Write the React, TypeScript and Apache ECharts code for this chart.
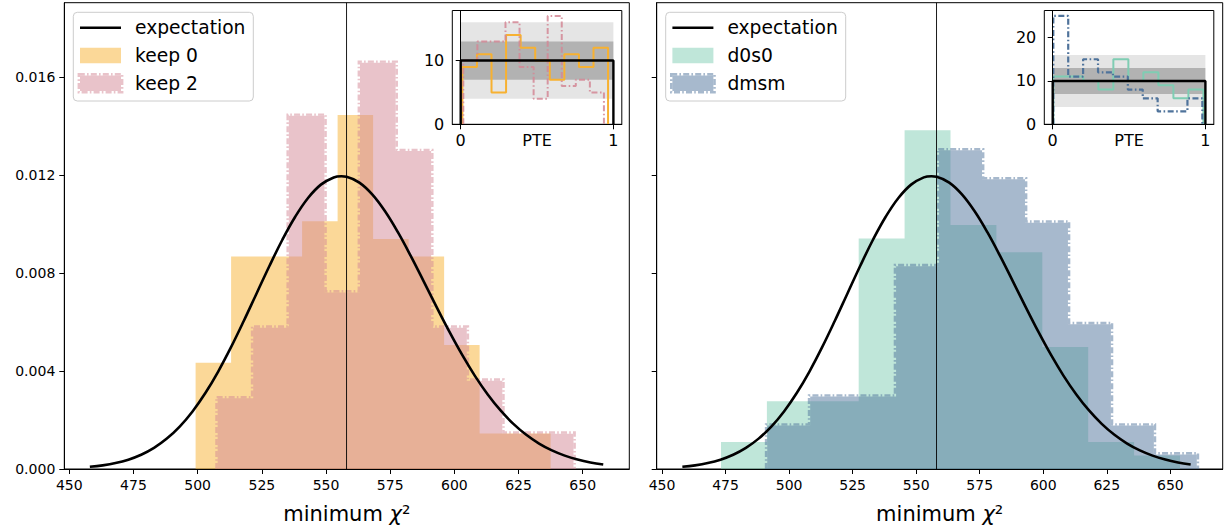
import { useEffect, useRef } from "react";
import * as echarts from "echarts";

const FONT = '"DejaVu Sans", "Liberation Sans", sans-serif';

// ---------- tick labels ----------
const xTickValues = [450, 475, 500, 525, 550, 575, 600, 625, 650];
const yTickValues = [0, 0.004, 0.008, 0.012, 0.016];
const pteTickValues = [0, 1];
const leftInsetYTicks = [0, 10];
const rightInsetYTicks = [0, 10, 20];

// ---------- expectation curve ----------
const expectX = [458, 463, 468, 473, 478, 483, 488, 493, 498, 503, 508, 513, 518, 523, 528, 533, 538, 543, 548, 553, 556, 558, 563, 568, 573, 578, 583, 588, 593, 598, 603, 608, 613, 618, 623, 628, 633, 638, 643, 648, 653, 658];
const expectY = [0.0000887, 0.000149, 0.000242, 0.000382, 0.000583, 0.000863, 0.001241, 0.001732, 0.002351, 0.003102, 0.003982, 0.004976, 0.006056, 0.007182, 0.008304, 0.009365, 0.010305, 0.011072, 0.011618, 0.011912, 0.01196, 0.011939, 0.011702, 0.01122, 0.01053, 0.009675, 0.008706, 0.007676, 0.006633, 0.005619, 0.004669, 0.003806, 0.003045, 0.002391, 0.001844, 0.001397, 0.00104, 0.00076, 0.000547, 0.000387, 0.000269, 0.000184];
const dofLine = 558;

// ---------- minimum chi^2 histograms (10 bins, counts) ----------
const keep0Range = [499.2, 637.5];
const keep0Counts = [6, 12, 12, 14, 20, 13, 12, 7, 2, 2];
const keep2Range = [507.8, 646.4];
const keep2Counts = [4, 8, 20, 10, 23, 18, 8, 5, 2, 2];
const d0s0Range = [473.2, 653.8];
const d0s0Counts = [2, 5, 5, 17, 25, 18, 16, 9, 2, 1];
const dmsmRange = [491.4, 660.4];
const dmsmCounts = [3, 5, 5, 14, 22, 20, 17, 10, 3, 1];

// ---------- PTE histograms (10 bins, counts) ----------
const keep0PteRange = [0.011, 0.965];
const keep0Pte = [9, 11, 5, 14, 12, 10, 7, 11, 9, 12];
const keep2PteRange = [0.017, 0.938];
const keep2Pte = [10, 13, 13, 16, 9, 4, 17, 6, 7, 5];
const d0s0PteRange = [0.004, 0.987];
const d0s0Pte = [11, 11, 10, 8, 15, 10, 12, 9, 6, 8];
const dmsmPteRange = [0.004, 0.98];
const dmsmPte = [25, 11, 15, 12, 11, 8, 6, 3, 3, 6];
const pteExpected = 10;
const pteBand1 = [7, 13];
const pteBand2 = [4, 16];

// ---------- colours ----------
const ORANGE = [247, 177, 49];
const PINK = [211, 135, 149];
const GREEN = [127, 205, 179];
const BLUE = [79, 115, 155];
const rgba = (c: number[], a: number) => `rgba(${c[0]},${c[1]},${c[2]},${a})`;

function stepPts(range: number[], counts: number[], density: boolean) {
  const n = counts.length;
  const w = (range[1] - range[0]) / n;
  const total = counts.reduce((a, b) => a + b, 0);
  const pts: number[][] = [[range[0], 0]];
  counts.forEach((c, i) => {
    const h = density ? c / (total * w) : c;
    pts.push([range[0] + i * w, h], [range[0] + (i + 1) * w, h]);
  });
  pts.push([range[1], 0]);
  return pts;
}

function offsetOutline(px: number[][], o: number) {
  const p: number[][] = [];
  for (const q of px) {
    const l = p[p.length - 1];
    if (!l || Math.abs(l[0] - q[0]) > 1e-6 || Math.abs(l[1] - q[1]) > 1e-6) p.push(q);
  }
  const s: number[][] = [p[0]];
  for (let i = 1; i < p.length - 1; i++) {
    const a = s[s.length - 1], b = p[i], c = p[i + 1];
    const col =
      (Math.abs(a[0] - b[0]) < 1e-6 && Math.abs(b[0] - c[0]) < 1e-6) ||
      (Math.abs(a[1] - b[1]) < 1e-6 && Math.abs(b[1] - c[1]) < 1e-6);
    if (!col) s.push(b);
  }
  s.push(p[p.length - 1]);
  const segs: { nx: number; ny: number }[] = [];
  for (let i = 0; i < s.length - 1; i++) {
    const dx = Math.sign(s[i + 1][0] - s[i][0]);
    const dy = Math.sign(s[i + 1][1] - s[i][1]);
    segs.push({ nx: dy, ny: -dx });
  }
  return s.map((pt, i) => {
    let x = pt[0], y = pt[1];
    [segs[i - 1], segs[i]].forEach((g) => {
      if (g) {
        x += g.nx * o;
        y += g.ny * o;
      }
    });
    return [x, y];
  });
}

const DASHDOT = [6, 2.2, 1.6, 2.2];

function histSeries(idx: number, pts: number[][], color: number[], dashed: boolean, z: number) {
  return {
    type: "custom",
    xAxisIndex: idx,
    yAxisIndex: idx,
    z,
    silent: true,
    data: pts,
    encode: { x: 0, y: 1 },
    renderItem: (params: any, api: any) => {
      if (params.dataIndex !== 0) return null;
      const px = pts.map((p) => api.coord(p));
      const children: any[] = [
        { type: "polygon", shape: { points: px }, style: { fill: rgba(color, 0.5) } },
      ];
      if (dashed) {
        children.push({
          type: "polyline",
          shape: { points: offsetOutline(px, 1.2) },
          style: { stroke: rgba(color, 0.5), lineWidth: 2.4, lineDash: DASHDOT, fill: null },
        });
      }
      return { type: "group", children };
    },
  };
}

function bandSeries(idx: number, band: number[], alpha: number, z: number) {
  return {
    type: "custom",
    xAxisIndex: idx,
    yAxisIndex: idx,
    z,
    silent: true,
    data: [[0, band[0], 1, band[1]]],
    encode: { x: [0, 2], y: [1, 3] },
    renderItem: (params: any, api: any) => {
      const a = api.coord([api.value(0), api.value(3)]);
      const b = api.coord([api.value(2), api.value(1)]);
      return {
        type: "rect",
        shape: { x: a[0], y: a[1], width: b[0] - a[0], height: b[1] - a[1] },
        style: { fill: `rgba(0,0,0,${alpha})` },
      };
    },
  };
}

function stepLine(idx: number, pts: number[][], color: string, width: number, dashed: boolean, z: number) {
  return {
    type: "line",
    xAxisIndex: idx,
    yAxisIndex: idx,
    z,
    silent: true,
    data: pts,
    symbol: "none",
    lineStyle: { color, width, type: dashed ? [6, 2.5, 1.6, 2.5] : "solid" },
  };
}

const tickLabel = { color: "#000", fontFamily: FONT, fontSize: 14 };

function mainX(gridIndex: number, min: number, max: number) {
  return {
    type: "value",
    gridIndex,
    min,
    max,
    z: 10,
    axisLine: { show: true, onZero: false, lineStyle: { color: "#000", width: 1 } },
    axisTick: { show: true, length: 5, customValues: xTickValues, lineStyle: { color: "#000", width: 1 } },
    axisLabel: { ...tickLabel, margin: 9, customValues: xTickValues },
    splitLine: { show: false },
    name: "minimum {i|χ}²",
    nameLocation: "middle",
    nameGap: 34,
    nameMoveOverlap: false,
    nameTextStyle: {
      color: "#000",
      fontFamily: FONT,
      fontSize: 21,
      verticalAlign: "top",
      rich: { i: { fontStyle: "italic", fontFamily: FONT, fontSize: 21, color: "#000" } },
    },
  };
}

function mainY(gridIndex: number, labels: boolean) {
  return {
    type: "value",
    gridIndex,
    min: 0,
    max: 0.01905,
    z: 10,
    axisLine: { show: true, lineStyle: { color: "#000", width: 1 } },
    axisTick: { show: true, length: 5, customValues: yTickValues, lineStyle: { color: "#000", width: 1 } },
    axisLabel: {
      ...tickLabel,
      show: labels,
      margin: 9,
      customValues: yTickValues,
      formatter: (v: number) => v.toFixed(3),
    },
    splitLine: { show: false },
  };
}

function insetX(gridIndex: number) {
  return {
    type: "value",
    gridIndex,
    min: -0.055,
    max: 1.055,
    z: 10,
    axisLine: { show: true, onZero: false, lineStyle: { color: "#000", width: 1 } },
    axisTick: { show: true, length: 5, customValues: pteTickValues, lineStyle: { color: "#000", width: 1 } },
    axisLabel: { ...tickLabel, fontSize: 16, margin: 8, customValues: pteTickValues },
    splitLine: { show: false },
    name: "PTE",
    nameLocation: "middle",
    nameGap: 8,
    nameMoveOverlap: false,
    nameTextStyle: { color: "#000", fontFamily: FONT, fontSize: 16, verticalAlign: "top" },
  };
}

function insetY(gridIndex: number, max: number, ticks: number[]) {
  return {
    type: "value",
    gridIndex,
    min: 0,
    max,
    z: 10,
    axisLine: { show: true, lineStyle: { color: "#000", width: 1 } },
    axisTick: { show: true, length: 5, customValues: ticks, lineStyle: { color: "#000", width: 1 } },
    axisLabel: { ...tickLabel, fontSize: 16, margin: 8, customValues: ticks },
    splitLine: { show: false },
  };
}

function legendGraphic(x0: number, y0: number, labels: string[], c1: number[], c2: number[], dashed2: boolean) {
  const rows = [15.4, 43.2, 71];
  const hx = x0 + 6.7;
  const hw = 41;
  const children: any[] = [
    {
      type: "rect",
      shape: { x: x0, y: y0, width: 180, height: 88.7, r: 4 },
      style: { fill: "rgba(255,255,255,0.8)", stroke: "#cccccc", lineWidth: 1 },
    },
    { type: "line", shape: { x1: hx, y1: y0 + rows[0], x2: hx + hw, y2: y0 + rows[0] }, style: { stroke: "#000", lineWidth: 2.6 } },
    { type: "rect", shape: { x: hx, y: y0 + rows[1] - 7.8, width: hw, height: 15.6 }, style: { fill: rgba(c1, 0.5) } },
    { type: "rect", shape: { x: hx, y: y0 + rows[2] - 7.8, width: hw, height: 15.6 }, style: { fill: rgba(c2, 0.5) } },
  ];
  if (dashed2) {
    children.push({
      type: "rect",
      shape: { x: hx - 1.2, y: y0 + rows[2] - 9, width: hw + 2.4, height: 18 },
      style: { fill: null, stroke: rgba(c2, 0.5), lineWidth: 2.4, lineDash: DASHDOT },
    });
  }
  labels.forEach((t, i) => {
    children.push({
      type: "text",
      style: {
        text: t,
        x: x0 + 61.7,
        y: y0 + rows[i],
        fill: "#000",
        fontFamily: FONT,
        fontSize: 18.7,
        verticalAlign: "middle",
        align: "left",
      },
    });
  });
  return { type: "group", children, z: 50 };
}

export default function App() {
  const ref = useRef<HTMLDivElement>(null);
  useEffect(() => {
    if (!ref.current) return;
    const chart = echarts.init(ref.current, undefined, { renderer: "svg" });
    const curve = expectX.map((x, i) => [x, expectY[i]]);
    const vline = [[dofLine, 0], [dofLine, 0.01905]];
    const pteExp = [[0, 0], [0, pteExpected], [1, pteExpected], [1, 0]];
    const gridBase = { show: true, borderColor: "#000", borderWidth: 1, containLabel: false };

    const option: any = {
      animation: false,
      backgroundColor: "#fff",
      grid: [
        { ...gridBase, left: 64.3, top: 2.7, width: 565, height: 466.3 },
        { ...gridBase, left: 656.7, top: 2.7, width: 566, height: 466.3 },
        { ...gridBase, left: 452.3, top: 10.5, width: 169.5, height: 113.8, backgroundColor: "#fff" },
        { ...gridBase, left: 1044.3, top: 10.5, width: 169.5, height: 113.8, backgroundColor: "#fff" },
      ],
      xAxis: [mainX(0, 448.05, 668.15), mainX(1, 447.9, 670.6), insetX(2), insetX(3)],
      yAxis: [mainY(0, true), mainY(1, false), insetY(2, 17.85, leftInsetYTicks), insetY(3, 26.25, rightInsetYTicks)],
      series: [
        histSeries(0, stepPts(keep0Range, keep0Counts, true), ORANGE, false, 2),
        histSeries(0, stepPts(keep2Range, keep2Counts, true), PINK, true, 3),
        { type: "line", xAxisIndex: 0, yAxisIndex: 0, z: 4, data: vline, symbol: "none", silent: true, lineStyle: { color: "#000", width: 0.9 } },
        { type: "line", xAxisIndex: 0, yAxisIndex: 0, z: 5, data: curve, symbol: "none", smooth: 0.4, silent: true, lineStyle: { color: "#000", width: 2.6 } },

        histSeries(1, stepPts(d0s0Range, d0s0Counts, true), GREEN, false, 2),
        histSeries(1, stepPts(dmsmRange, dmsmCounts, true), BLUE, true, 3),
        { type: "line", xAxisIndex: 1, yAxisIndex: 1, z: 4, data: vline, symbol: "none", silent: true, lineStyle: { color: "#000", width: 0.9 } },
        { type: "line", xAxisIndex: 1, yAxisIndex: 1, z: 5, data: curve, symbol: "none", smooth: 0.4, silent: true, lineStyle: { color: "#000", width: 2.6 } },

        bandSeries(2, pteBand2, 0.1, 1),
        bandSeries(2, pteBand1, 0.22, 1),
        stepLine(2, stepPts(keep0PteRange, keep0Pte, false), rgba(ORANGE, 1), 2, false, 2),
        stepLine(2, stepPts(keep2PteRange, keep2Pte, false), rgba(PINK, 0.85), 2, true, 3),
        stepLine(2, pteExp, "#000", 2.4, false, 4),

        bandSeries(3, pteBand2, 0.1, 1),
        bandSeries(3, pteBand1, 0.22, 1),
        stepLine(3, stepPts(d0s0PteRange, d0s0Pte, false), rgba(GREEN, 1), 2, false, 2),
        stepLine(3, stepPts(dmsmPteRange, dmsmPte, false), rgba(BLUE, 1), 2.2, true, 3),
        stepLine(3, pteExp, "#000", 2.4, false, 4),
      ],
      graphic: [
        legendGraphic(73.3, 12.3, ["expectation", "keep 0", "keep 2"], ORANGE, PINK, true),
        legendGraphic(665.7, 12.3, ["expectation", "d0s0", "dmsm"], GREEN, BLUE, true),
      ],
    };
    chart.setOption(option);
    return () => chart.dispose();
  }, []);
  return <div ref={ref} style={{ position: "fixed", left: 0, top: 0, width: 1228, height: 529 }} />;
}
